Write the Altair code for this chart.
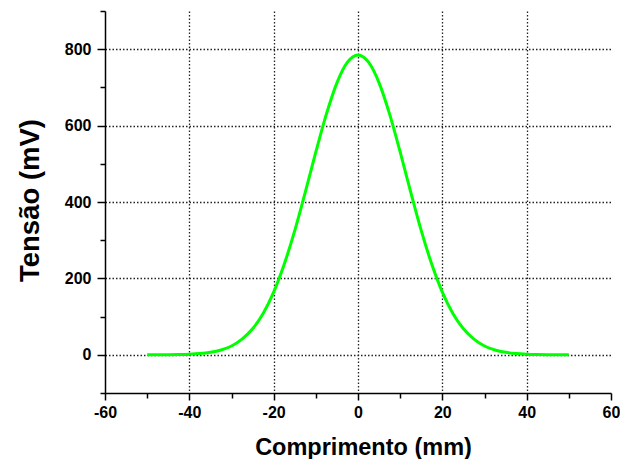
import altair as alt
import pandas as pd

# Curve values (Comprimento in mm, Tensão in mV)
comprimento = [-50, -47.5, -45, -42.5, -40, -37.5, -35, -32.5, -30, -27.5, -25,
               -22.5, -20, -17.5, -15, -12.5, -10, -7.5, -5, -2.5, 0,
               2.5, 5, 7.5, 10, 12.5, 15, 17.5, 20, 22.5, 25,
               27.5, 30, 32.5, 35, 37.5, 40, 42.5, 45, 47.5, 50]
tensao = [0, 0.1, 0.3, 0.7, 1.5, 3.2, 6.5, 12.5, 23, 41, 68,
          108, 164, 237, 325, 426, 531, 630, 712, 766, 785,
          766, 712, 630, 531, 426, 325, 237, 164, 108, 68,
          41, 23, 12.5, 6.5, 3.2, 1.5, 0.7, 0.3, 0.1, 0]

x_major = [-60, -40, -20, 0, 20, 40, 60]
x_minor = [-50, -30, -10, 10, 30, 50]
x_grid = [-40, -20, 0, 20, 40]
y_major = [0, 200, 400, 600, 800]
y_minor = [-100, 100, 300, 500, 700, 900]
y_grid = [0, 200, 400, 600, 800]

df = pd.DataFrame({"x": comprimento, "y": tensao})

FONT = "Liberation Sans"
LABEL = "'' + datum.value"
xs = alt.Scale(domain=[-60, 60], nice=False, zero=False)
ys = alt.Scale(domain=[-100, 900], nice=False, zero=False)

grid_layer = alt.Chart(df).mark_line(opacity=0).encode(
    x=alt.X("x:Q", scale=xs, title=None,
            axis=alt.Axis(orient="bottom", values=x_grid, grid=True, labels=False,
                          ticks=False, domain=False, gridColor="#222222",
                          gridDash=[1.5, 2], gridWidth=1.3, gridOpacity=1)),
    y=alt.Y("y:Q", scale=ys, title=None,
            axis=alt.Axis(orient="left", values=y_grid, grid=True, labels=False,
                          ticks=False, domain=False, gridColor="#222222",
                          gridDash=[1.5, 2], gridWidth=1.3, gridOpacity=1)),
)

minor_layer = alt.Chart(df).mark_line(opacity=0).encode(
    x=alt.X("x:Q", scale=xs, title=None,
            axis=alt.Axis(orient="bottom", values=x_minor, grid=False, labels=False,
                          ticks=True, tickSize=5, tickWidth=1.5, tickColor="black",
                          domain=False)),
    y=alt.Y("y:Q", scale=ys, title=None,
            axis=alt.Axis(orient="left", values=y_minor, grid=False, labels=False,
                          ticks=True, tickSize=5, tickWidth=1.5, tickColor="black",
                          domain=False)),
)

line_layer = alt.Chart(df).mark_line(
    color="#00FF00", strokeWidth=3, interpolate="monotone"
).encode(
    x=alt.X("x:Q", scale=xs, title="Comprimento (mm)",
            axis=alt.Axis(orient="bottom", values=x_major, grid=False,
                          tickSize=7, tickWidth=1.5, tickColor="black",
                          domainColor="black", domainWidth=1.5,
                          labelExpr=LABEL,
                          labelFont=FONT, labelFontWeight="bold", labelFontSize=16,
                          labelColor="black", labelPadding=4, labelFlush=False,
                          titleFont=FONT, titleFontWeight="bold", titleFontSize=23.5,
                          titleColor="black", titleX=258, titleY=54,
                          titleBaseline="middle", titleAlign="center")),
    y=alt.Y("y:Q", scale=ys, title="Tensão (mV)",
            axis=alt.Axis(orient="left", values=y_major, grid=False,
                          tickSize=8, tickWidth=1.5, tickColor="black",
                          domainColor="black", domainWidth=1.5,
                          labelExpr=LABEL,
                          labelFont=FONT, labelFontWeight="bold", labelFontSize=16,
                          labelColor="black", labelPadding=6, labelFlush=False,
                          titleFont=FONT, titleFontWeight="bold", titleFontSize=27.5,
                          titleColor="black", titleX=-75, titleY=189, titleAngle=-90,
                          titleBaseline="middle", titleAlign="center")),
)

chart = alt.layer(grid_layer, minor_layer, line_layer).resolve_axis(
    x="independent", y="independent"
).properties(
    width=506, height=382,
    autosize=alt.AutoSizeParams(type="none"),
    padding={"left": 97, "top": 3, "right": 9, "bottom": 66},
    background="white",
).configure_view(stroke=None)

chart.save("out.html", embed_options={"renderer": "svg", "actions": False})
